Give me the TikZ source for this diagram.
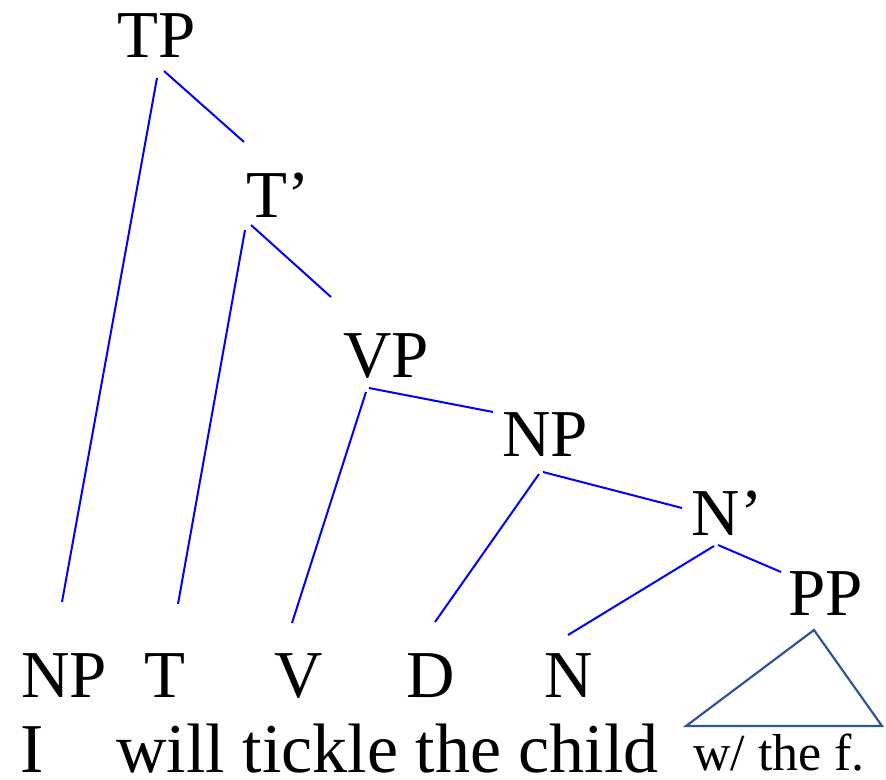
\documentclass[tikz,border=0pt]{standalone}
\usepackage{fontspec}
\setmainfont{Liberation Serif}
\usetikzlibrary{positioning}

\begin{document}
\begin{tikzpicture}[
  x=1pt, y=-1pt,
  cat/.style={inner sep=0pt, anchor=base, font=\fontsize{67}{80}\selectfont},
  word/.style={inner sep=0pt, anchor=base west, font=\fontsize{70}{80}\selectfont},
  branch/.style={draw=blue, line width=2pt},
  roof/.style={draw={rgb,255:red,47;green,85;blue,151}, line width=2.2pt, line join=miter}
]
  \useasboundingbox (0,0) rectangle (886,779);

  % phrasal nodes
  \node[cat] (tp) at (157,57) {TP};
  \node[cat] (tbar) at (278,217) {T’};
  \node[cat] (vp) at (386,377) {VP};
  \node[cat] (np) at (545,456) {NP};
  \node[cat] (nbar) at (727,535) {N’};
  \node[cat] (pp) at (826,615) {PP};

  % terminal categories
  \node[cat] (npI) at (64,697) {NP};
  \node[cat] (t) at (165,697) {T};
  \node[cat] (v) at (299,697) {V};
  \node[cat] (d) at (431,697) {D};
  \node[cat] (n) at (569,697) {N};

  % words
  \node[word] (wI) at (20,772) {I};
  \node[word] (words) at (116,772) {will tickle the child};
  \node[cat, font=\fontsize{52}{60}\selectfont] (wpp) at (779,770) {w/ the f.};

  % branches
  \draw[branch] ([shift={(0,21)}]tp.base) -- ([shift={(-2,-95)}]npI.base);
  \draw[branch] ([shift={(7,14)}]tp.base) -- ([shift={(-34,-75)}]tbar.base);
  \draw[branch] ([shift={(-33,13)}]tbar.base) -- ([shift={(13,-93)}]t.base);
  \draw[branch] ([shift={(-27,8)}]tbar.base) -- ([shift={(-55,-80)}]vp.base);
  \draw[branch] ([shift={(-20,15)}]vp.base) -- ([shift={(-7,-74)}]v.base);
  \draw[branch] ([shift={(-17,11)}]vp.base) -- ([shift={(-52,-44)}]np.base);
  \draw[branch] ([shift={(-6,18)}]np.base) -- ([shift={(4,-75)}]d.base);
  \draw[branch] ([shift={(-2,16)}]np.base) -- ([shift={(-45,-27)}]nbar.base);
  \draw[branch] ([shift={(-13,11)}]nbar.base) -- ([shift={(-1,-62)}]n.base);
  \draw[branch] ([shift={(-9,10)}]nbar.base) -- ([shift={(-45,-43)}]pp.base);

  % triangle over the PP
  \draw[roof] ([shift={(-12,15)}]pp.base) -- ([shift={(-93,-44)}]wpp.base)
    -- ([shift={(103,-44)}]wpp.base) -- cycle;
\end{tikzpicture}
\end{document}
